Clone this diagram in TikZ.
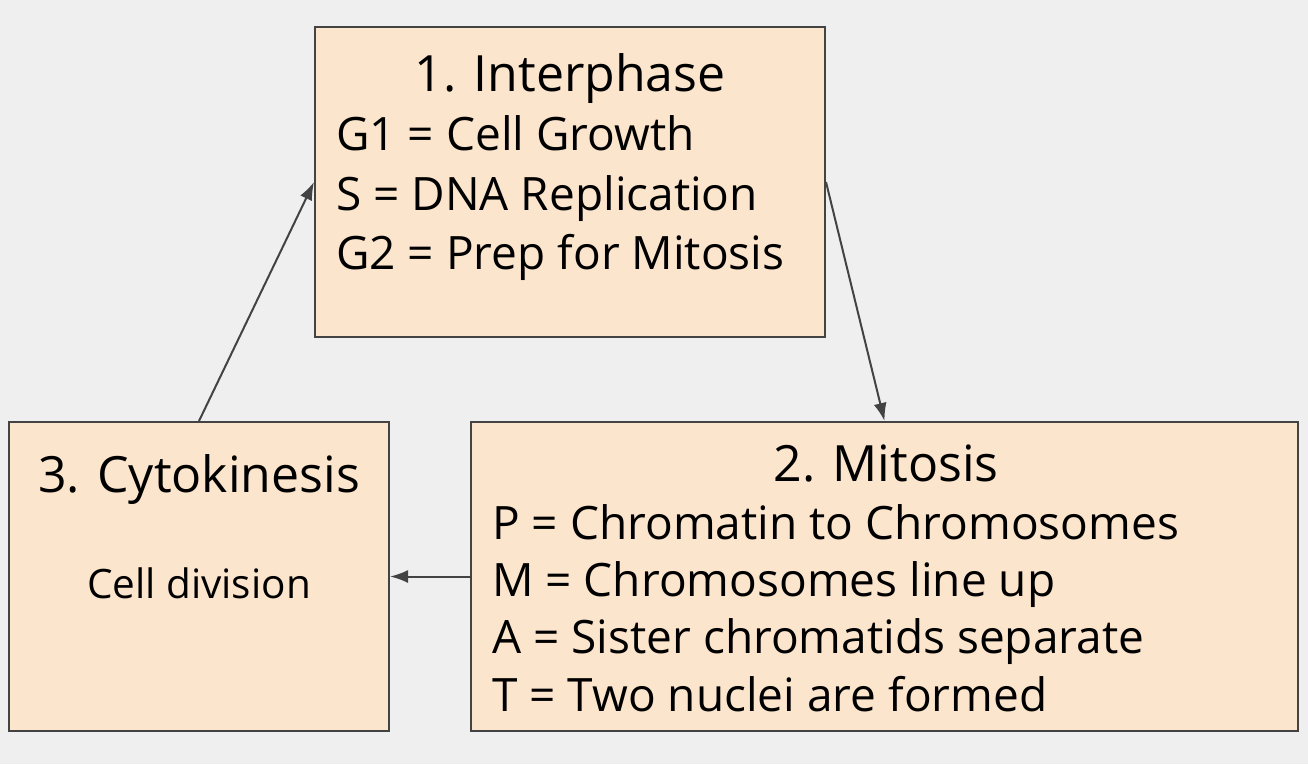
\documentclass[tikz,border=0pt]{standalone}
\usepackage{fontspec}
\setmainfont{Open Sans}
\usepackage{tikz}
\usetikzlibrary{arrows.meta}
\definecolor{CYCbg}{HTML}{EFEFEF}
\definecolor{CYCfill}{HTML}{FCE5CD}
\definecolor{CYCline}{HTML}{434343}
\tikzset{
  phasebox/.style={rectangle,draw=CYCline,fill=CYCfill,line width=2pt,inner sep=0pt},
  phasetitle/.style={inner sep=0pt,anchor=base,font=\fontsize{50}{60}\selectfont},
  phaseline/.style={inner sep=0pt,anchor=base west,font=\fontsize{46}{57}\selectfont},
  phasenote/.style={inner sep=0pt,anchor=base,font=\fontsize{40.5}{50}\selectfont},
  cyclearrow/.style={draw=CYCline,line width=2pt,-{Latex[length=18pt,width=13pt]}}
}

\begin{document}
\begin{tikzpicture}[x=1pt,y=-1pt]
  \fill[CYCbg] (0,0) rectangle (1308,764);

  % the three phases
  \node[phasebox,minimum width=510pt,minimum height=310pt] (inter) at (570,182) {};
  \node[phasebox,minimum width=827pt,minimum height=309pt] (mitosis) at (884.5,576.5) {};
  \node[phasebox,minimum width=380pt,minimum height=309pt] (cyto) at (199,576.5) {};

  % interphase text
  \node[phasetitle] (interTitle) at (570,91.5) {1. Interphase};
  \node[phaseline] (interGone) at (336,150.6) {G1 = Cell Growth};
  \node[phaseline] (interS) at (336,210) {S = DNA Replication};
  \node[phaseline] (interGtwo) at (336,269) {G2 = Prep for Mitosis};

  % mitosis text
  \node[phasetitle] (mitosisTitle) at (886,481.7) {2. Mitosis};
  \node[phaseline] (mitosisP) at (492,539) {P = Chromatin to Chromosomes};
  \node[phaseline] (mitosisM) at (492,596) {M = Chromosomes line up};
  \node[phaseline] (mitosisA) at (492,653) {A = Sister chromatids separate};
  \node[phaseline] (mitosisT) at (492,711) {T = Two nuclei are formed};

  % cytokinesis text
  \node[phasetitle] (cytoTitle) at (199,492.7) {3. Cytokinesis};
  \node[phasenote] (cytoNote) at (199,598) {Cell division};

  % the cycle
  \draw[cyclearrow] (inter.east) -- (mitosis.north);
  \draw[cyclearrow] (mitosis.west) -- (cyto.east);
  \draw[cyclearrow] (cyto.north) -- (inter.west);
\end{tikzpicture}
\end{document}
